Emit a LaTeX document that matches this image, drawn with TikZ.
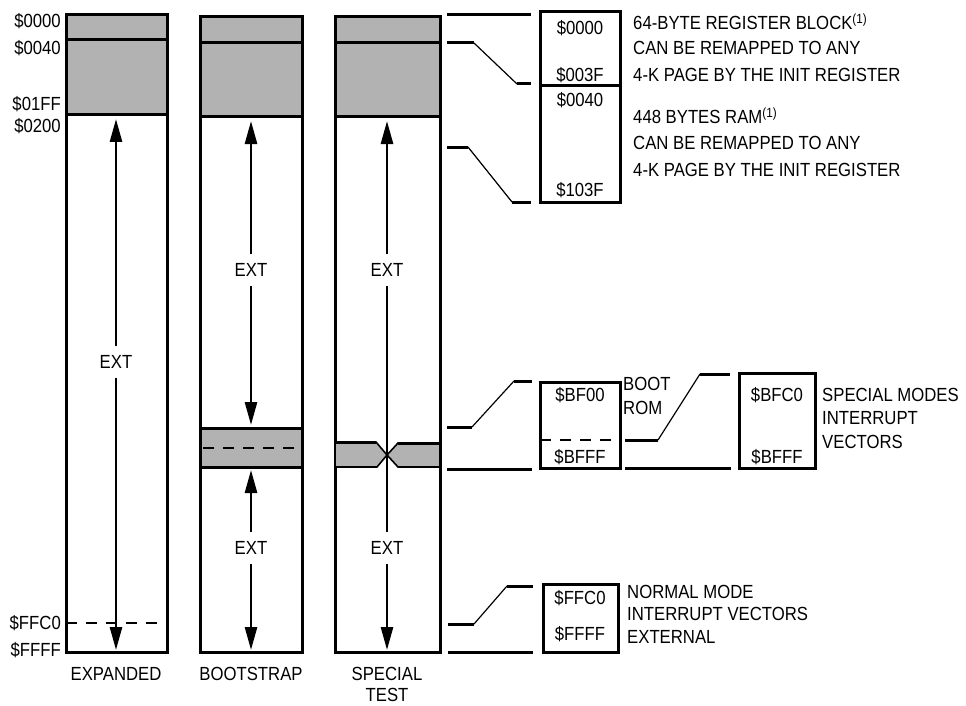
\documentclass[tikz,border=0pt]{standalone}
\usepackage{fontspec}
\setmainfont{Liberation Sans}[FakeStretch=0.88]
\usetikzlibrary{arrows.meta}
\begin{document}
\begin{tikzpicture}[x=1pt,y=-1pt,
  every node/.style={inner sep=0pt,font=\fontsize{19}{22}\selectfont},
  colbox/.style={draw,line width=3pt},
  shade/.style={fill=black!30},
  thickline/.style={line width=3pt},
  thinline/.style={line width=1.2pt},
  dashline/.style={line width=2.2pt,dash pattern=on 11pt off 9pt},
  arr/.style={line width=2.6pt,-{Triangle[length=23pt,width=12pt]}},
  plain/.style={line width=2.6pt},
  lbl/.style={anchor=east},
  txt/.style={anchor=west},
  extlbl/.style={inner sep=9pt}]
\useasboundingbox (0,0) rectangle (966,706);

% ---------- Column 1: EXPANDED ----------
\fill[shade] (66,15) rectangle (167,115);
\draw[colbox] (66,15) rectangle (167,652);
\draw[thickline] (66,40) -- (167,40);
\draw[thickline] (66,115) -- (167,115);
\draw[dashline] (66,623) -- (167,623);
\node[lbl] (a0000) at (61,21) {\$0000};
\node[lbl] (a0040) at (61,48) {\$0040};
\node[lbl] (a01FF) at (61,104) {\$01FF};
\node[lbl] (a0200) at (61,126) {\$0200};
\node[lbl] (aFFC0) at (61,623) {\$FFC0};
\node[lbl] (aFFFF) at (61,650) {\$FFFF};
\coordinate (c1top) at (116,119);
\coordinate (c1bot) at (116,650);
\node[extlbl] (ext1) at (116,362) {EXT};
\draw[arr] (ext1) -- (c1top);
\draw[arr] (ext1) -- (c1bot);
\node (expanded) at (116,674) {EXPANDED};

% ---------- Column 2: BOOTSTRAP ----------
\fill[shade] (200,17) rectangle (302,117);
\fill[shade] (200,428) rectangle (302,467);
\draw[colbox] (200,17) rectangle (302,652);
\draw[thickline] (200,43) -- (302,43);
\draw[thickline] (200,117) -- (302,117);
\draw[thickline] (200,428) -- (302,428);
\draw[thickline] (200,467) -- (302,467);
\draw[dashline] (203,448) -- (302,448);
\coordinate (c2top) at (251,121);
\coordinate (c2mid1) at (251,425);
\coordinate (c2mid2) at (251,470);
\coordinate (c2bot) at (251,650);
\node[extlbl] (ext2a) at (251,270) {EXT};
\node[extlbl] (ext2b) at (251,548) {EXT};
\draw[arr] (ext2a) -- (c2top);
\draw[arr] (ext2a) -- (c2mid1);
\draw[arr] (ext2b) -- (c2mid2);
\draw[arr] (ext2b) -- (c2bot);
\node (bootstrap) at (251,674) {BOOTSTRAP};

% ---------- Column 3: SPECIAL TEST ----------
\fill[shade] (335,17) rectangle (440,117);
\draw[colbox] (335,17) rectangle (440,652);
\draw[thickline] (335,43) -- (440,43);
\draw[thickline] (335,117) -- (440,117);
\filldraw[shade,line width=1.6pt] (335,442) -- (376,442) -- (387,455) -- (377,467) -- (335,467) -- cycle;
\filldraw[shade,line width=1.6pt] (440,443) -- (398,443) -- (387,455) -- (398,467) -- (440,467) -- cycle;
\draw[thickline] (335,442) -- (376,442);
\draw[thickline] (398,443) -- (440,443);
\coordinate (c3top) at (387,121);
\coordinate (c3bot) at (387,650);
\node[extlbl] (ext3a) at (387,270) {EXT};
\node[extlbl] (ext3b) at (387,548) {EXT};
\draw[arr] (ext3a) -- (c3top);
\draw[plain] (ext3a) -- (ext3b);
\draw[arr] (ext3b) -- (c3bot);
\node (special) at (387,674) {SPECIAL};
\node (test) at (387,695) {TEST};

% ---------- Top right detail ----------
\draw[colbox] (540,12) rectangle (620,202);
\draw[thickline] (540,86) -- (620,86);
\node (r0000) at (580,28) {\$0000};
\node (r003F) at (580,75) {\$003F};
\node (r0040) at (580,100) {\$0040};
\node (r103F) at (580,190) {\$103F};
\draw[thickline] (447,15) -- (531,15);
\draw[thickline] (447,43) -- (474,43);
\draw[thinline] (474,43) -- (517,84);
\draw[thickline] (517,84) -- (531,84);
\draw[thickline] (447,147) -- (468,147);
\draw[thinline] (468,147) -- (512,202);
\draw[thickline] (512,202) -- (531,202);
\node[txt] (t1) at (633,22) {64-BYTE REGISTER BLOCK\textsuperscript{(1)}};
\node[txt] (t2) at (633,48) {CAN BE REMAPPED TO ANY};
\node[txt] (t3) at (633,75) {4-K PAGE BY THE INIT REGISTER};
\node[txt] (t4) at (633,116) {448 BYTES RAM\textsuperscript{(1)}};
\node[txt] (t5) at (633,143) {CAN BE REMAPPED TO ANY};
\node[txt] (t6) at (633,170) {4-K PAGE BY THE INIT REGISTER};

% ---------- Boot ROM detail ----------
\draw[colbox] (540,382) rectangle (620,468);
\draw[dashline] (540,440) -- (620,440);
\node (bf00) at (580,395) {\$BF00};
\node (bfff) at (580,457) {\$BFFF};
\node[txt] (boot) at (623,384) {BOOT};
\node[txt] (rom) at (623,408) {ROM};
\draw[thickline] (447,427) -- (472,427);
\draw[thinline] (472,427) -- (514,381);
\draw[thickline] (514,381) -- (532,381);
\draw[thickline] (447,469) -- (532,469);

% ---------- Special modes vectors ----------
\draw[thickline] (625,440) -- (658,440);
\draw[thinline] (658,440) -- (700,374);
\draw[thickline] (700,374) -- (730,374);
\draw[thickline] (625,468) -- (731,468);
\draw[colbox] (739,373) rectangle (815,468);
\node (bfc0) at (777,395) {\$BFC0};
\node (bfff2) at (777,457) {\$BFFF};
\node[txt] (s1) at (822,395) {SPECIAL MODES};
\node[txt] (s2) at (822,418) {INTERRUPT};
\node[txt] (s3) at (822,442) {VECTORS};

% ---------- Normal mode vectors ----------
\draw[thickline] (448,624) -- (474,624);
\draw[thinline] (474,624) -- (507,586);
\draw[thickline] (507,586) -- (533,586);
\draw[thickline] (448,652) -- (533,652);
\draw[colbox] (543,584) rectangle (618,652);
\node (ffc0) at (580,598) {\$FFC0};
\node (ffff) at (580,634) {\$FFFF};
\node[txt] (n1) at (627,592) {NORMAL MODE};
\node[txt] (n2) at (627,614) {INTERRUPT VECTORS};
\node[txt] (n3) at (627,637) {EXTERNAL};
\end{tikzpicture}
\end{document}
